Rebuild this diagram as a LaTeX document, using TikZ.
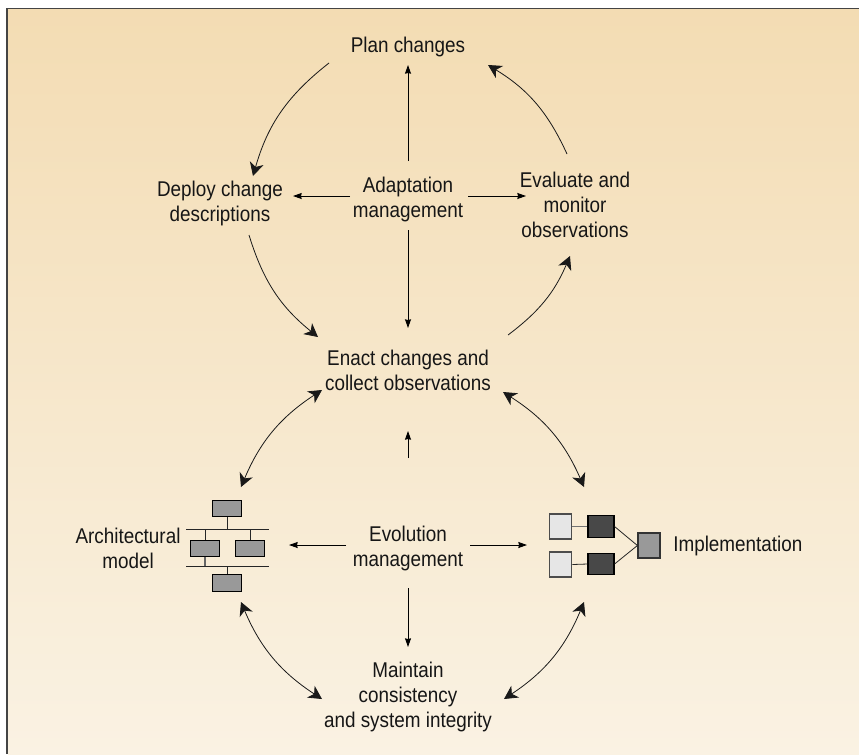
\documentclass[tikz,border=0pt]{standalone}
\usepackage{fontspec}
\setmainfont[FakeStretch=0.885]{Liberation Sans}
\usetikzlibrary{arrows.meta}
\definecolor{txt}{HTML}{161616}
\definecolor{bgtop}{HTML}{F3DCB3}
\definecolor{bgbot}{HTML}{FAF2E3}
\definecolor{boxgray}{HTML}{999999}
\definecolor{boxlight}{HTML}{E6E6E6}
\definecolor{boxdark}{HTML}{484848}
\definecolor{framec}{HTML}{444444}
\tikzset{
  x=0.75pt,y=0.75pt,
  label text/.style={font=\fontsize{16}{18.75}\selectfont,text=txt,align=center,inner sep=0pt},
  cycle arrow/.style={-{Stealth[length=10pt,width=10.5pt,inset=3pt]},line width=0.6pt,draw=black!90},
  both arrow/.style={{Stealth[length=10pt,width=10.5pt,inset=3pt]}-{Stealth[length=10pt,width=10.5pt,inset=3pt]},line width=0.6pt,draw=black!90},
  straight arrow/.style={-{Stealth[length=6.5pt,width=4.5pt,inset=0.5pt]},line width=0.65pt,draw=black},
  comp/.style={draw=black,line width=0.8pt,inner sep=0pt,fill=boxgray,minimum width=22pt,minimum height=12.5pt},
  light/.style={draw=black!70,line width=0.9pt,inner sep=0pt,fill=boxlight,minimum width=17pt,minimum height=18.7pt},
  dark/.style={draw=black,line width=0.8pt,inner sep=0pt,fill=boxdark,minimum width=19.5pt,minimum height=16pt},
  sink/.style={draw=black!80,line width=0.9pt,inner sep=0pt,fill=boxgray,minimum width=16.5pt,minimum height=18.7pt},
  wire/.style={line width=0.6pt,draw=black!85}
}
\begin{document}
\begin{tikzpicture}
\useasboundingbox (0,0) rectangle (859,-754);
\fill[white] (0,0) rectangle (859,-754);
\shade[top color=bgtop,bottom color=bgbot] (8,-9) rectangle (859,-754);
\draw[framec,line width=1.4pt] (7,-754) -- (7,-8.5) -- (859,-8.5);

% labels
\node[label text] (plan) at (408,-46.5) {Plan changes};
\node[label text] (deploy) at (220,-203.5) {Deploy change\\descriptions};
\node[label text] (adapt) at (408,-199.5) {Adaptation\\management};
\node[label text] (eval) at (575,-204.5) {Evaluate and\\monitor\\observations};
\node[label text] (enact) at (408,-370.5) {Enact changes and\\collect observations};
\node[label text] (archl) at (128,-548.5) {Architectural\\model};
\node[label text] (evol) at (408,-548.5) {Evolution\\management};
\node[label text,anchor=west] (impl) at (673,-545.5) {Implementation};
\node[label text] (maint) at (408,-696.5) {Maintain\\consistency\\and system integrity};

% free ends of connectors
\coordinate (a1) at (329,-63);   \coordinate (a2) at (253,-176);
\coordinate (b1) at (567,-154);  \coordinate (b2) at (488,-65);
\coordinate (c1) at (249,-235);  \coordinate (c2) at (318,-337);
\coordinate (d1) at (508,-335);  \coordinate (d2) at (570,-256);
\coordinate (e1) at (322,-390);  \coordinate (e2) at (241,-487);
\coordinate (f1) at (503,-392);  \coordinate (f2) at (584,-487);
\coordinate (g1) at (241,-602);  \coordinate (g2) at (322,-699);
\coordinate (h1) at (584,-602);  \coordinate (h2) at (504,-699);
\coordinate (u1) at (408,-161);  \coordinate (u2) at (408,-65);
\coordinate (l1) at (350,-196);  \coordinate (l2) at (293,-196);
\coordinate (r1) at (468,-196);  \coordinate (r2) at (526,-196);
\coordinate (v1) at (408,-230);  \coordinate (v2) at (408,-328);
\coordinate (w1) at (408,-458);  \coordinate (w2) at (408,-431);
\coordinate (x1) at (346,-545);  \coordinate (x2) at (289,-545);
\coordinate (y1) at (470,-545);  \coordinate (y2) at (527,-545);
\coordinate (z1) at (408,-588);  \coordinate (z2) at (408,-647);

% cycle arcs
\draw[cycle arrow] (a1) to[bend right=18] (a2);
\draw[cycle arrow] (b1) to[bend right=17] (b2);
\draw[cycle arrow] (c1) to[bend right=17] (c2);
\draw[cycle arrow] (d1) to[bend right=15] (d2);
\draw[both arrow] (e1) to[bend right=17] (e2);
\draw[both arrow] (f1) to[bend left=17] (f2);
\draw[both arrow] (g1) to[bend right=17] (g2);
\draw[both arrow] (h1) to[bend left=17] (h2);

% straight arrows
\draw[straight arrow] (u1) -- (u2);
\draw[straight arrow] (l1) -- (l2);
\draw[straight arrow] (r1) -- (r2);
\draw[straight arrow] (v1) -- (v2);
\draw[straight arrow] (w1) -- (w2);
\draw[straight arrow] (x1) -- (x2);
\draw[straight arrow] (y1) -- (y2);
\draw[straight arrow] (z1) -- (z2);

% architectural model
\coordinate (bus1l) at (186,-529); \coordinate (bus1r) at (269,-529);
\coordinate (bus2l) at (186,-566); \coordinate (bus2r) at (269,-566);
\node[comp] (mtop) at (227,-508.5) {};
\node[comp] (mleft) at (205,-548.5) {};
\node[comp] (mright) at (250,-548.5) {};
\node[comp] (mbot) at (227,-583) {};
\draw[wire] (bus1l) -- (bus1r);
\draw[wire] (bus2l) -- (bus2r);
\draw[wire] (mtop.south) -- (mtop.south |- bus1l);
\draw[wire] (mleft.north) -- (mleft.north |- bus1l);
\draw[wire] (mright.north) -- (mright.north |- bus1l);
\draw[wire,line width=1pt,draw=black!60] (mleft.south) -- (mleft.south |- bus2l);
\draw[wire] (mbot.north) -- (mbot.north |- bus2l);

% implementation
\node[light] (i1) at (560.5,-526.5) {};
\node[light] (i2) at (560.5,-564.5) {};
\node[dark] (d3) at (601,-526.5) {};
\node[dark] (d4) at (601,-564) {};
\node[sink] (s) at (649,-545.5) {};
\draw[wire,line width=0.9pt,draw=black!55] (i1.east) -- (d3.west);
\draw[wire] (i2.east) -- (d4.west);
\draw[wire] (d3.east) -- (s.west);
\draw[wire] (d4.east) -- (s.west);
\end{tikzpicture}
\end{document}
